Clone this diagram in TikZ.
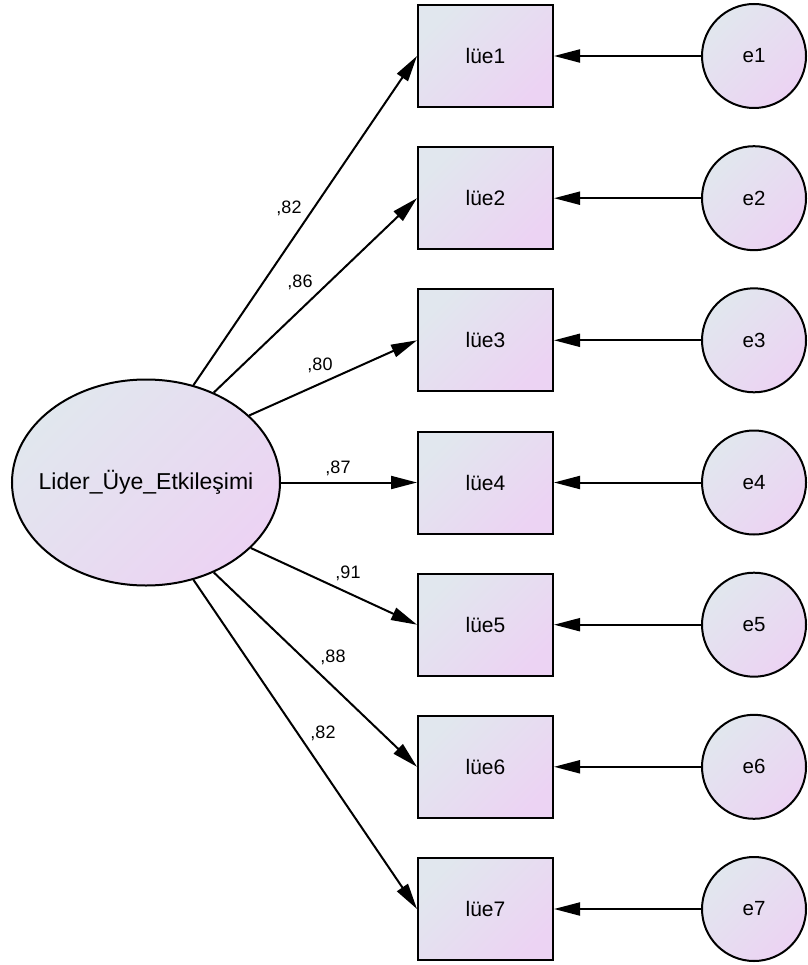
\documentclass[tikz,border=0pt]{standalone}
\usepackage{fontspec}
\setmainfont{Liberation Sans}
\usetikzlibrary{shapes.geometric,arrows.meta}
\definecolor{fillA}{HTML}{E1E7EE}
\definecolor{fillB}{HTML}{ECD3F3}
\begin{document}
\begin{tikzpicture}[x=1pt,y=-1pt,
  shade2/.style={top color=fillA,bottom color=fillB,shading angle=45},
  obs/.style={draw=black,line width=2pt,shade2,minimum width=135pt,minimum height=102pt,inner sep=0pt,font=\fontsize{21}{23}\selectfont},
  err/.style={draw=black,line width=2pt,shade2,circle,minimum size=104pt,inner sep=0pt,font=\fontsize{20.5}{23}\selectfont},
  lat/.style={draw=black,line width=2pt,shade2,ellipse,minimum width=268pt,minimum height=206pt,inner sep=0pt,font=\fontsize{23}{25}\selectfont},
  conn/.style={line width=2pt,-{Triangle[length=26pt,width=13pt]}},
  coef/.style={font=\fontsize{18}{20}\selectfont,inner sep=0pt}]
\useasboundingbox (0,0) rectangle (807,965);
\node[lat] (L) at (146,482.5) {\makebox[0pt]{Lider\_Üye\_Etkileşimi}};
\foreach \i/\y in {1/56,2/198.2,3/340.3,4/482.5,5/624.7,6/766.8,7/909}{
  \node[obs] (b\i) at (485.5,\y) {lüe\i};
  \node[err] (e\i) at (754,\y) {e\i};
  \draw[conn] (e\i.west) -- (b\i.east);
}
\draw[conn] (L.64.6) -- (b1.west);
\draw[conn] (L.53.6) -- (b2.west);
\draw[conn] (L.33.6) -- (b3.west);
\draw[conn] (L.east) -- (b4.west);
\draw[conn] (L.-32.4) -- (b5.west);
\draw[conn] (L.-53.3) -- (b6.west);
\draw[conn] (L.-64.1) -- (b7.west);
\node[coef] (c1) at (289,208) {,82};
\node[coef] (c2) at (300,282) {,86};
\node[coef] (c3) at (320,365) {,80};
\node[coef] (c4) at (338,468) {,87};
\node[coef] (c5) at (348,573) {,91};
\node[coef] (c6) at (333,657) {,88};
\node[coef] (c7) at (323,733) {,82};
\end{tikzpicture}
\end{document}
